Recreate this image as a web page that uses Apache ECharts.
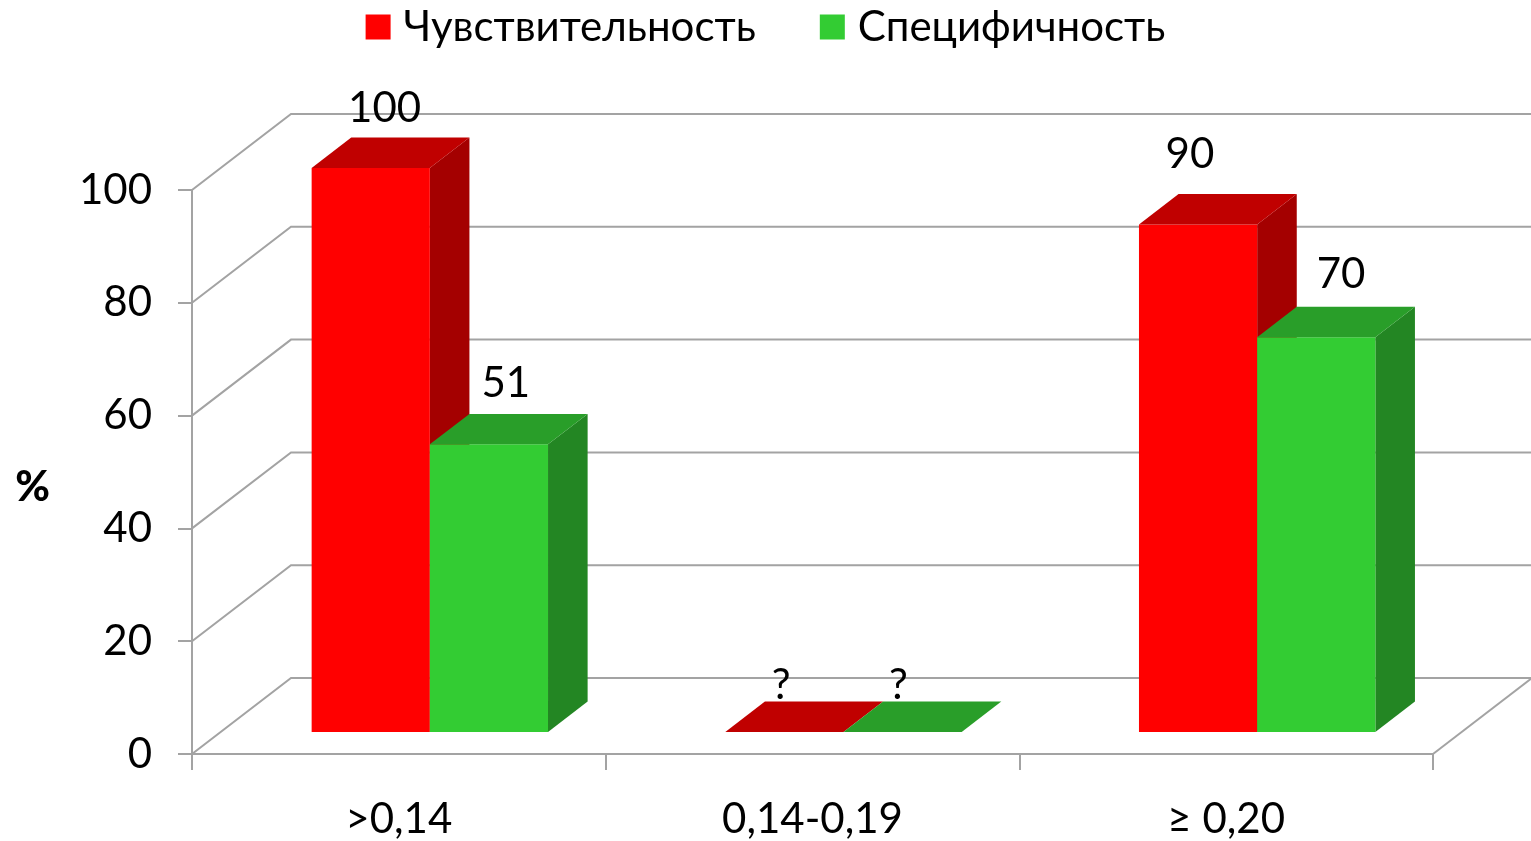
<!DOCTYPE html>
<html><head><meta charset="utf-8">
<script src="https://cdn.jsdelivr.net/npm/echarts@6/dist/echarts.min.js"></script>
<style>html,body{margin:0;padding:0;background:#fff}#chart{width:1531px;height:841px}</style>
</head><body><div id="chart"></div>
<script>
// Chart data
const categories = ['>0,14', '0,14-0,19', '≥ 0,20'];
const seriesNames = ['Чувствительность', 'Специфичность'];
const sensitivity = [100, null, 90];   // null = unknown, shown as "?"
const specificity = [51, null, 70];
const yTicks = [0, 20, 40, 60, 80, 100];
const unknownLabel = '?';

// Pseudo-3D styling
const FONT = 'Lato, "Liberation Sans", sans-serif';
const FONT_SIZE = 42;
const DEPTH = [99, -76];          // screen vector of full floor depth
const FRONT_SHIFT = [31, -22];    // where the bar front faces sit inside the depth
const BAR_DEPTH = 0.4;            // bar thickness as a share of the depth
const GRID_COLOR = '#a3a3a3';
const palette = [
  { front: '#FF0000', top: '#C00000', side: '#A40000' },
  { front: '#33CC33', top: '#299E29', side: '#238623' }
];
// small per-label offsets [dx, dy] for the value labels
const labelNudge = [
  [[-2, 0], [-19, 13], [-24, -11]],
  [[1, -2], [-20, 13], [9, -3]]
];

const seriesValues = [sensitivity, specificity];

function wallRenderer(params, api) {
  const cs = params.coordSys;
  const v = api.value(1);
  const y = api.coord([0, v])[1];
  const left = cs.x, right = cs.x + cs.width;
  const style = { stroke: GRID_COLOR, lineWidth: 2, fill: null };
  const children = [{
    type: 'polyline',
    shape: { points: [[left, y], [left + DEPTH[0], y + DEPTH[1]], [right + DEPTH[0], y + DEPTH[1]]] },
    style
  }];
  if (v === 0) {
    children.push({
      type: 'polyline',
      shape: { points: [[right, y], [right + DEPTH[0], y + DEPTH[1]]] },
      style
    });
  }
  return { type: 'group', children };
}

function barRenderer(si) {
  return function (params, api) {
    const ci = api.value(0);
    const v = api.value(1);
    const raw = seriesValues[si][params.dataIndex];
    const base = api.coord([ci, 0]);
    const top = api.coord([ci, v]);
    const bandW = api.size([1, 0])[0];
    const barW = bandW / 3.5;
    const bdx = DEPTH[0] * BAR_DEPTH, bdy = DEPTH[1] * BAR_DEPTH;
    const x0 = base[0] - barW + si * barW + FRONT_SHIFT[0];
    const x1 = x0 + barW;
    const yb = base[1] + FRONT_SHIFT[1];
    const yt = top[1] + FRONT_SHIFT[1];
    const c = palette[si];
    const children = [];
    if (yb - yt > 0.5) {
      children.push({
        type: 'polygon',
        shape: { points: [[x1, yt], [x1 + bdx, yt + bdy], [x1 + bdx, yb + bdy], [x1, yb]] },
        style: { fill: c.side }
      });
      children.push({
        type: 'rect',
        shape: { x: x0, y: yt, width: barW, height: yb - yt },
        style: { fill: c.front }
      });
    }
    children.push({
      type: 'polygon',
      shape: { points: [[x0, yt], [x1, yt], [x1 + bdx, yt + bdy], [x0 + bdx, yt + bdy]] },
      style: { fill: c.top }
    });
    const nudge = labelNudge[si][params.dataIndex];
    children.push({
      type: 'text',
      x: x0 + barW / 2 + bdx * 0.4 + nudge[0],
      y: yt + bdy - 8 + nudge[1],
      style: {
        text: raw == null ? unknownLabel : String(raw),
        fontFamily: FONT, fontSize: FONT_SIZE, fill: '#000',
        align: 'center', verticalAlign: 'bottom'
      }
    });
    return { type: 'group', children };
  };
}

const chart = echarts.init(document.getElementById('chart'), null, { renderer: 'canvas' });
chart.setOption({
  animation: false,
  backgroundColor: '#fff',
  textStyle: { fontFamily: FONT },
  legend: {
    data: seriesNames,
    top: 1,
    left: 'center',
    icon: 'rect',
    itemWidth: 25,
    itemHeight: 25,
    itemGap: 64,
    textStyle: { fontSize: FONT_SIZE, color: '#000', fontFamily: FONT, padding: [0, 0, 0, 8] }
  },
  grid: { left: 192, right: 98, top: 190, bottom: 87, containLabel: false },
  xAxis: {
    type: 'category',
    data: categories,
    axisLine: { lineStyle: { color: GRID_COLOR, width: 2 } },
    axisTick: { show: true, length: 16, lineStyle: { color: GRID_COLOR, width: 2 } },
    axisLabel: { fontSize: FONT_SIZE, color: '#000', margin: 44, fontFamily: FONT },
    splitLine: { show: false }
  },
  yAxis: {
    type: 'value',
    min: 0, max: 100, interval: 20,
    name: '%',
    nameLocation: 'middle',
    nameRotate: 0,
    nameGap: 142,
    nameTextStyle: {
      fontSize: 42, fontWeight: 900, color: '#000', fontFamily: FONT,
      verticalAlign: 'top', lineHeight: 30
    },
    axisLine: { show: true, lineStyle: { color: GRID_COLOR, width: 2 } },
    axisTick: { show: true, length: 14, lineStyle: { color: GRID_COLOR, width: 2 } },
    axisLabel: { fontSize: FONT_SIZE, color: '#000', margin: 40, fontFamily: FONT },
    splitLine: { show: false }
  },
  series: [
    {
      type: 'custom',
      silent: true,
      clip: false,
      z: 1,
      renderItem: wallRenderer,
      encode: { x: 0, y: 1 },
      data: yTicks.map(v => [0, v])
    },
    ...seriesNames.map((name, si) => ({
      name,
      type: 'custom',
      clip: false,
      z: 3 + si,
      itemStyle: { color: palette[si].front },
      renderItem: barRenderer(si),
      encode: { x: 0, y: 1 },
      data: seriesValues[si].map((v, i) => [i, v == null ? 0 : v])
    }))
  ]
});
</script>
</body></html>
